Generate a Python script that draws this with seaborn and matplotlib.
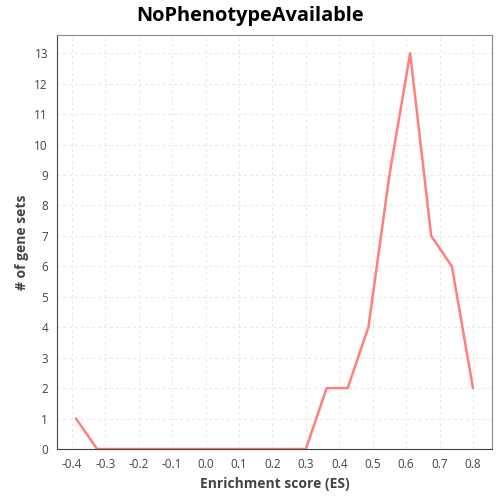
import numpy as np
import pandas as pd
import seaborn as sns
import matplotlib
matplotlib.use("Agg")
import matplotlib.pyplot as plt

es = [-0.388, -0.325, -0.263, -0.2, -0.138, -0.075, -0.013, 0.05, 0.112, 0.175,
      0.237, 0.3, 0.362, 0.425, 0.487, 0.55, 0.612, 0.675, 0.737, 0.8]
counts = [1, 0, 0, 0, 0, 0, 0, 0, 0, 0, 0, 0, 2, 2, 4, 9, 13, 7, 6, 2]
xticks = [-0.4, -0.3, -0.2, -0.1, 0.0, 0.1, 0.2, 0.3, 0.4, 0.5, 0.6, 0.7, 0.8]

sns.set_style("white")
plt.rcParams['font.family'] = ['Open Sans', 'DejaVu Sans']

df = pd.DataFrame({"es": es, "count": counts})
fig, ax = plt.subplots(figsize=(5, 5), dpi=100)
fig.subplots_adjust(left=0.114, right=0.984, top=0.93, bottom=0.102)
sns.lineplot(data=df, x="es", y="count", ax=ax, color="#ff7f7f", linewidth=1.8)
ax.set_xlim(-0.445, 0.857)
ax.set_ylim(0, 13.6)
ax.set_xticks(xticks)
ax.set_xticklabels([f"{v:.1f}" for v in xticks])
ax.set_yticks(range(0, 14))
ax.tick_params(labelsize=8.5, colors="#444444", length=3, color="#555555")
ax.grid(True, linestyle=(0, (3, 3)), color="#e8e8e8", linewidth=0.7)
for s in ax.spines.values():
    s.set_color("#888888")
ax.spines['left'].set_color("#444444")
ax.spines['bottom'].set_color("#444444")
ax.set_xlabel("Enrichment score (ES)", fontsize=10, fontweight="bold", color="#444444")
ax.set_ylabel("# of gene sets", fontsize=10, fontweight="bold", color="#444444")
fig.text(0.5, 0.968, "NoPhenotypeAvailable", ha="center", va="center",
         fontsize=14.4, fontweight="bold", color="black")
fig.savefig("out.png", dpi=100)
